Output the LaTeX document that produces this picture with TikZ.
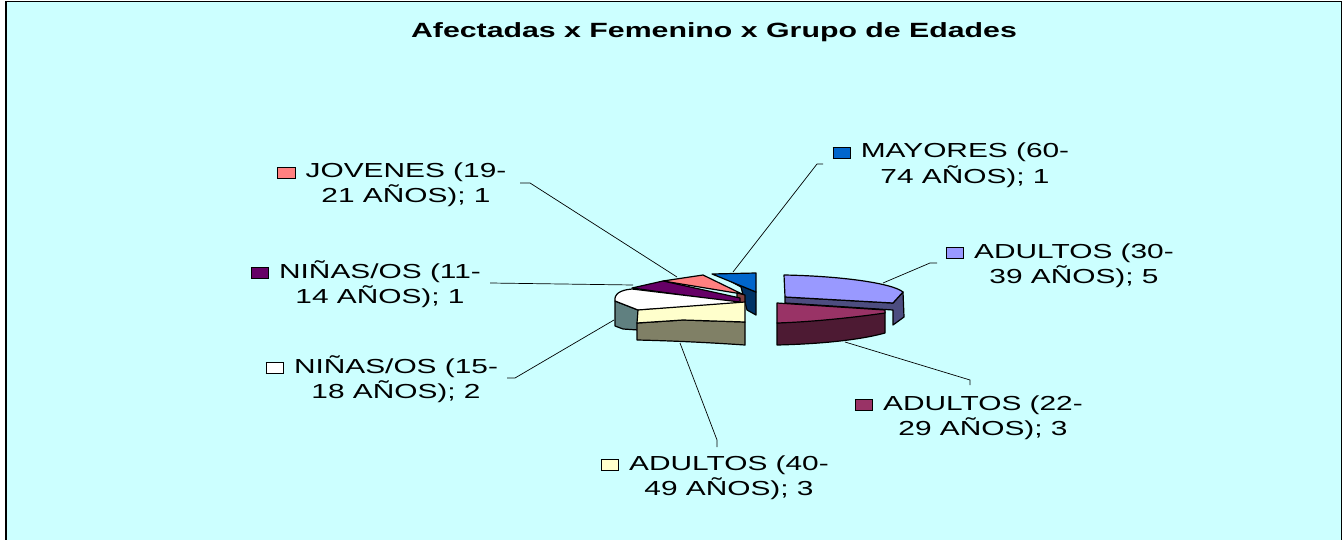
\documentclass[tikz,border=0pt]{standalone}
\usepackage{fontspec}
\setmainfont{Liberation Sans}[FakeStretch=1.47]

% slice colours (top face / side face)
\definecolor{chartbg}{HTML}{CCFFFF}
\definecolor{lavtop}{HTML}{9999FF}
\definecolor{lavside}{HTML}{4D4D80}
\definecolor{martop}{HTML}{993366}
\definecolor{marside}{HTML}{4D1A33}
\definecolor{crmtop}{HTML}{FFFFCC}
\definecolor{crmside}{HTML}{808066}
\definecolor{gryside}{HTML}{608080}
\definecolor{purtop}{HTML}{660066}
\definecolor{saltop}{HTML}{FF8080}
\definecolor{salside}{HTML}{804040}
\definecolor{blutop}{HTML}{0066CC}
\definecolor{bluside}{HTML}{003366}

% legend key in front of the first label line
\newcommand{\legkey}[1]{\llap{{\setlength{\fboxsep}{0pt}\setlength{\fboxrule}{0.9pt}%
  \fcolorbox{black}{#1}{\rule{0pt}{10.5pt}\rule{16.5pt}{0pt}}}\hspace{10pt}}}

\begin{document}
\begin{tikzpicture}[x=1pt,y=-1pt,
  slice/.style={draw=black, line width=1.2pt, line join=round},
  lbl/.style={font=\fontsize{20.3}{25}\selectfont, align=center, anchor=base, inner sep=0pt},
  leader/.style={draw=black, line width=0.7pt}]
  \useasboundingbox (0,0) rectangle (1343,540);
  \fill[white] (0,0) rectangle (1343,540);
  \draw[fill=chartbg, line width=1.5pt] (6,1.5) rectangle (1341.5,560);

  % title
  \node[font=\bfseries\fontsize{20.6}{24}\selectfont, anchor=base, inner sep=0pt] (title) at (714,38)
    {Afectadas x Femenino x Grupo de Edades};

  % right part: 30-39 and 22-29
  \filldraw[slice, fill=lavside] (785,297) -- (893,303) -- (903,292) -- (904,317) -- (893,325)
    -- (893,310) -- (785,303) -- cycle;
  \filldraw[slice, fill=lavtop] (784,275) .. controls (840,276) and (892,283) .. (903,292)
    -- (893,303) -- (785,297) -- cycle;
  \filldraw[slice, fill=marside] (777,323) -- (885,312) -- (885,333)
    .. controls (860,340) and (820,344) .. (777,345) -- cycle;
  \filldraw[slice, fill=martop] (777,303) -- (885,310) -- (885,313)
    .. controls (850,318) and (810,322) .. (777,323) -- cycle;

  % left part
  \filldraw[slice, fill=bluside] (730,281) -- (756,292) -- (756,315) -- (747,310) -- (741,287) -- cycle;
  \filldraw[slice, fill=blutop] (712,274) -- (756,273) -- (756,292) -- cycle;
  \filldraw[slice, fill=saltop] (663,281) -- (703,275) -- (742,294) -- cycle;
  \filldraw[slice, fill=salside] (737,293) -- (745,295) -- (745,304) -- (737,302) -- cycle;
  \filldraw[slice, fill=purtop] (632,288) -- (663,281) -- (740,298) -- (740,303) -- cycle;
  \filldraw[slice, fill=gryside] (615,301) -- (638,310) -- (638,330) -- (623,329) -- (615,326) -- cycle;
  \filldraw[slice, fill=white] (615,301) .. controls (614,294) and (620,290) .. (632,289)
    -- (740,302) -- (740,304) -- (638,310) -- cycle;
  \filldraw[slice, fill=crmside] (637,323) -- (683,320) -- (745,322) -- (745,345)
    .. controls (715,343) and (680,341) .. (637,340) -- cycle;
  \filldraw[slice, fill=crmtop] (638,310) -- (745,302) -- (745,322) -- (683,320) -- (637,323) -- cycle;

  % labels (base = second line)
  \node[lbl] (mayores) at (965,183) {\legkey{blutop}MAYORES (60-\\74 AÑOS); 1};
  \node[lbl] (adu3039) at (1074,283) {\legkey{lavtop}ADULTOS (30-\\39 AÑOS); 5};
  \node[lbl] (jovenes) at (406,203) {\legkey{saltop}JOVENES (19-\\21 AÑOS); 1};
  \node[lbl] (nin1114) at (380,303) {\legkey{purtop}NIÑAS/OS (11-\\14 AÑOS); 1};
  \node[lbl] (nin1518) at (396,398) {\legkey{white}NIÑAS/OS (15-\\18 AÑOS); 2};
  \node[lbl] (adu4049) at (729,495) {\legkey{crmtop}ADULTOS (40-\\49 AÑOS); 3};
  \node[lbl] (adu2229) at (983,435) {\legkey{martop}ADULTOS (22-\\29 AÑOS); 3};

  % leader ends
  \coordinate (mayS) at (733,272);  \coordinate (mayL) at (823,164);
  \coordinate (a30S) at (883,283);  \coordinate (a30L) at (937,263);
  \coordinate (jovS) at (677,277);  \coordinate (jovL) at (520,183);
  \coordinate (n11S) at (633,285);  \coordinate (n11L) at (490,283);
  \coordinate (n15S) at (614,320);  \coordinate (n15L) at (507,378);
  \coordinate (a40S) at (680,343);  \coordinate (a40L) at (717,447);
  \coordinate (a22S) at (845,342);  \coordinate (a22L) at (970,385);

  % leaders
  \draw[leader] (mayS) -- ([xshift=-6pt]mayL) -- (mayL);
  \draw[leader] (a30S) -- ([xshift=-7pt]a30L) -- (a30L);
  \draw[leader] (jovS) -- ([xshift=10pt]jovL) -- (jovL);
  \draw[leader] (n11S) -- (n11L);
  \draw[leader] (n15S) -- ([xshift=8pt]n15L) -- (n15L);
  \draw[leader] (a40S) -- ([yshift=7pt]a40L) -- (a40L);
  \draw[leader] (a22S) -- ([yshift=5pt]a22L) -- (a22L);
\end{tikzpicture}
\end{document}
